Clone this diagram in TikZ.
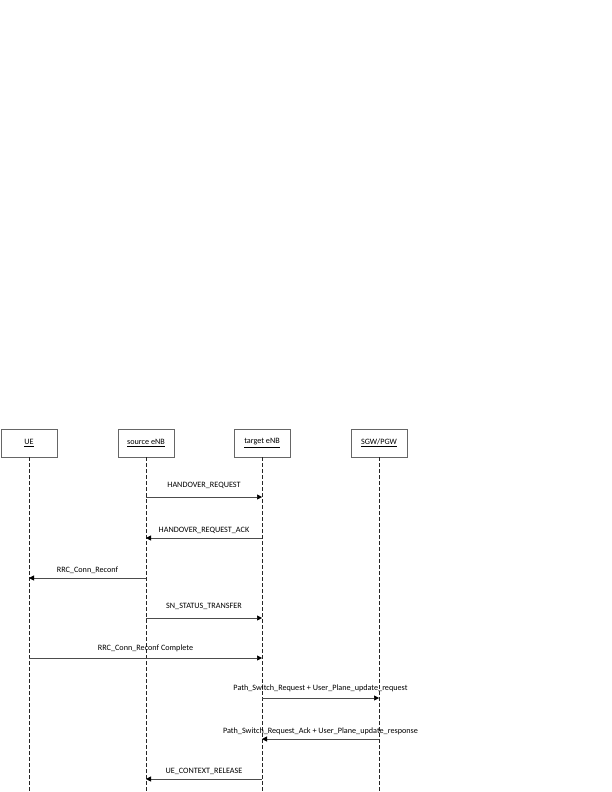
\documentclass[tikz,border=0pt]{standalone}
\usepackage{fontspec}
\setmainfont{Carlito}
\usetikzlibrary{arrows.meta}
\begin{document}
\begin{tikzpicture}[x=1bp,y=-1bp,
  actor/.style={draw=black!60,line width=0.6bp,minimum width=56bp,minimum height=28bp,inner sep=0pt,font=\fontsize{8.2}{9}\selectfont},
  life/.style={draw=black!85,dashed,dash pattern=on 4bp off 2bp,line width=0.6bp},
  msg/.style={draw=black!70,line width=0.5bp,-{Triangle[length=5bp,width=5bp,color=black]}},
  lbl/.style={font=\fontsize{8.2}{9}\selectfont,inner sep=0pt,anchor=center}]
\useasboundingbox (0,0) rectangle (612,792);
\node[actor] (ue) at (29,443) {\underline{UE}};
\node[actor] (src) at (146,443) {\underline{source eNB}};
\node[actor] (tgt) at (262,443) {\underline{target eNB}};
\node[actor] (gw) at (379,443) {\underline{SGW/PGW}};
\coordinate (ueE) at (29,792);
\coordinate (srcE) at (146,792);
\coordinate (tgtE) at (262,792);
\coordinate (gwE) at (379,792);
\draw[life] (ue.south) -- (ueE);
\draw[life] (src.south) -- (srcE);
\draw[life] (tgt.south) -- (tgtE);
\draw[life] (gw.south) -- (gwE);
% messages
\foreach \name/\y in {a/497,b/538,c/578,d/618,e/658,f/698,g/739,h/779}{
  \coordinate (ue\name) at (29,\y);
  \coordinate (src\name) at (146,\y);
  \coordinate (tgt\name) at (262,\y);
  \coordinate (gw\name) at (379,\y);
}
\draw[msg] (srca) -- node[lbl,yshift=12bp] {HANDOVER\_REQUEST} (tgta);
\draw[msg] (tgtb) -- node[lbl,yshift=8bp] {HANDOVER\_REQUEST\_ACK} (srcb);
\draw[msg] (srcc) -- node[lbl,yshift=8bp] {RRC\_Conn\_Reconf} (uec);
\draw[msg] (srcd) -- node[lbl,yshift=12bp] {SN\_STATUS\_TRANSFER} (tgtd);
\draw[msg] (uee) -- node[lbl,yshift=10bp] {RRC\_Conn\_Reconf Complete} (tgte);
\draw[msg] (tgtf) -- node[lbl,yshift=10bp] {Path\_Switch\_Request + User\_Plane\_update\_request} (gwf);
\draw[msg] (gwg) -- node[lbl,yshift=8bp] {Path\_Switch\_Request\_Ack + User\_Plane\_update\_response} (tgtg);
\draw[msg] (tgth) -- node[lbl,yshift=8bp] {UE\_CONTEXT\_RELEASE} (srch);
\end{tikzpicture}
\end{document}
